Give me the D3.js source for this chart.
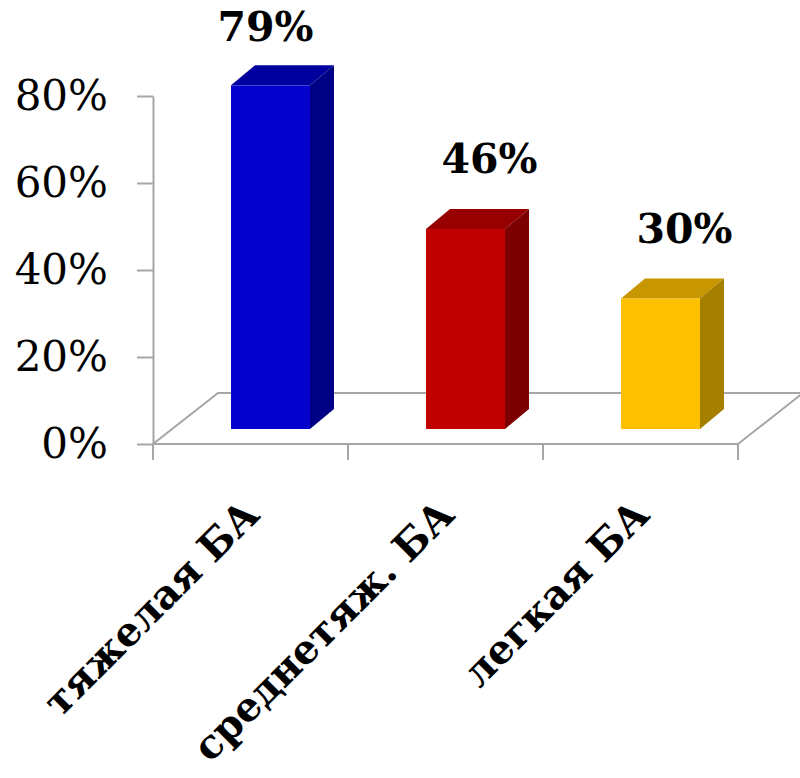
<!DOCTYPE html>
<html>
<head>
<meta charset="utf-8">
<script src="https://cdn.jsdelivr.net/npm/d3@7"></script>
<style>
  html, body { margin: 0; padding: 0; background: #ffffff; }
  svg { display: block; }
</style>
</head>
<body>
<svg id="chart" width="800" height="778"></svg>
<script>
// ---- data ----
const categories = ["тяжелая БА", "среднетяж. БА", "легкая БА"];
const values = [79, 46, 30];
const tickValues = [0, 20, 40, 60, 80];
const frontColors = ["#0202cc", "#c00000", "#ffc000"];
const topColors = ["#00009e", "#960000", "#c79600"];
const sideColors = ["#000084", "#7c0000", "#a67e00"];

// ---- layout ----
const svg = d3.select("#chart");
const plotLeft = 153, plotRight = 738;
const floorDX = 65, floorDY = 51;
const barFrontDX = 20, barFrontDY = 15;   // bar front face offset inside floor depth
const barDepthX = 24, barDepthY = 20;     // bar depth
const barWidth = 79;
const labelNudge = [[-29, 12], [0, 0], [0, 0]];
const serif = "'DejaVu Serif', 'Liberation Serif', serif";

const x = d3.scaleBand().domain(categories).range([plotLeft, plotRight]).padding(0);
const y = d3.scaleLinear().domain([0, 80]).range([444, 96]);
const bw = x.bandwidth();
const axisColor = "#a6a6a6";

// floor
const y0 = y(0);
svg.append("polygon")
  .attr("points", [
    [plotLeft, y0], [plotRight, y0],
    [plotRight + floorDX, y0 - floorDY], [plotLeft + floorDX, y0 - floorDY]
  ].map(p => p.join(",")).join(" "))
  .attr("fill", "none")
  .attr("stroke", axisColor)
  .attr("stroke-width", 2);

// y axis
const yAxis = d3.axisLeft(y)
  .tickValues(tickValues)
  .tickFormat(d => d + "%")
  .tickSize(16)
  .tickSizeOuter(0)
  .tickPadding(29);
const gy = svg.append("g")
  .attr("transform", `translate(${plotLeft},0)`)
  .call(yAxis);
gy.select(".domain").attr("stroke", axisColor).attr("stroke-width", 2);
gy.selectAll(".tick line").attr("stroke", axisColor).attr("stroke-width", 2);
gy.selectAll(".tick text")
  .attr("fill", "#000")
  .style("font-family", serif)
  .style("font-size", "42px");

// x category tick marks at band boundaries
const boundaries = categories.map(c => x(c)).concat([x(categories[categories.length - 1]) + bw]);
svg.append("g").selectAll("line")
  .data(boundaries)
  .join("line")
  .attr("x1", d => d).attr("x2", d => d)
  .attr("y1", y0).attr("y2", y0 + 16)
  .attr("stroke", axisColor)
  .attr("stroke-width", 2);

// bars
const bars = svg.append("g");
categories.forEach((c, i) => {
  const fx0 = x(c) + bw / 2 - barWidth / 2 + barFrontDX;
  const fx1 = fx0 + barWidth;
  const fyb = y(0) - barFrontDY;
  const fyt = y(values[i]) - barFrontDY;
  const g = bars.append("g");
  // top
  g.append("polygon")
    .attr("points", [[fx0, fyt], [fx1, fyt], [fx1 + barDepthX, fyt - barDepthY], [fx0 + barDepthX, fyt - barDepthY]]
      .map(p => p.join(",")).join(" "))
    .attr("fill", topColors[i]);
  // side
  g.append("polygon")
    .attr("points", [[fx1, fyt], [fx1 + barDepthX, fyt - barDepthY], [fx1 + barDepthX, fyb - barDepthY], [fx1, fyb]]
      .map(p => p.join(",")).join(" "))
    .attr("fill", sideColors[i]);
  // front
  g.append("rect")
    .attr("x", fx0).attr("y", fyt)
    .attr("width", barWidth).attr("height", fyb - fyt)
    .attr("fill", frontColors[i]);

  // value label
  const lx = fx0 + barDepthX + barWidth / 2 + labelNudge[i][0];
  const ly = fyt - barDepthY - 36 + labelNudge[i][1];
  svg.append("text")
    .attr("x", lx).attr("y", ly)
    .attr("text-anchor", "middle")
    .style("font-family", serif)
    .style("font-weight", "bold")
    .style("font-size", "41px")
    .attr("fill", "#000")
    .text(values[i] + "%");
});

// category labels
svg.append("g").selectAll("text")
  .data(categories)
  .join("text")
  .attr("transform", d => `translate(${x(d) + bw / 2 + 11},517) rotate(-45)`)
  .attr("text-anchor", "end")
  .style("font-family", serif)
  .style("font-weight", "bold")
  .style("font-size", "40px")
  .attr("fill", "#000")
  .text(d => d);
</script>
</body>
</html>
